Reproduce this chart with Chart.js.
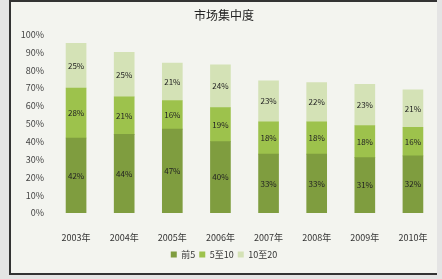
<!DOCTYPE html>
<html>
<head>
<meta charset="utf-8">
<script src="https://cdn.jsdelivr.net/npm/chart.js@4.4.0/dist/chart.umd.min.js"></script>
<style>
  html, body { margin: 0; padding: 0; background: #e4e4e4; }
  #frame {
    position: absolute; left: 9px; top: 0; width: 426px; height: 271px;
    border-left: 2px solid #333; border-top: 2px solid #333; border-bottom: 2px solid #333;
    background: #f3f4ef;
  }
  canvas { display: block; }
</style>
</head>
<body>
<div id="frame"><canvas id="chart" width="426" height="271"></canvas></div>
<script>
const years = ['2003年', '2004年', '2005年', '2006年', '2007年', '2008年', '2009年', '2010年'];
const top5 = [42, 44, 47, 40, 33, 33, 31, 32];
const top5to10 = [28, 21, 16, 19, 18, 18, 18, 16];
const top10to20 = [25, 25, 21, 24, 23, 22, 23, 21];
const seriesNames = ['前5', '5至10', '10至20'];
const yTicks = [0, 10, 20, 30, 40, 50, 60, 70, 80, 90, 100];

const barLabels = {
  id: 'barLabels',
  afterDatasetsDraw(chart) {
    const ctx = chart.ctx;
    ctx.save();
    ctx.font = '8px "Noto Sans CJK SC", sans-serif';
    ctx.fillStyle = '#222';
    ctx.textAlign = 'center';
    ctx.textBaseline = 'middle';
    chart.data.datasets.forEach((ds, di) => {
      chart.getDatasetMeta(di).data.forEach((bar, i) => {
        const mid = (bar.y + bar.base) / 2;
        ctx.fillText(ds.data[i] + '%', bar.x, mid);
      });
    });
    ctx.restore();
  }
};

new Chart(document.getElementById('chart'), {
  type: 'bar',
  data: {
    labels: years,
    datasets: [
      { label: seriesNames[0], data: top5, backgroundColor: '#7f9d3f' },
      { label: seriesNames[1], data: top5to10, backgroundColor: '#9dc24c' },
      { label: seriesNames[2], data: top10to20, backgroundColor: '#d4e2b6' }
    ]
  },
  options: {
    responsive: false,
    animation: false,
    layout: { padding: { left: 0, right: 0, top: 2, bottom: 4 } },
    datasets: { bar: { barThickness: 20 } },
    plugins: {
      title: {
        display: true, text: '市场集中度', color: '#222',
        font: { family: '"Noto Sans CJK SC", sans-serif', size: 12, weight: 'normal' },
        padding: { top: 4, bottom: 12 }
      },
      legend: {
        position: 'bottom',
        labels: {
          boxWidth: 6, boxHeight: 6, padding: 4, color: '#333',
          font: { family: '"Noto Sans CJK SC", sans-serif', size: 9 }
        }
      },
      tooltip: { enabled: false }
    },
    scales: {
      x: {
        stacked: true,
        grid: { display: false, drawTicks: false },
        border: { display: false },
        afterFit(scale) {
          scale.height = 33;
          scale.paddingLeft = 0;
          scale.paddingRight = 0;
        },
        ticks: {
          maxRotation: 0, color: '#333', padding: 19,
          font: { family: '"Noto Sans CJK SC", sans-serif', size: 9 }
        }
      },
      y: {
        stacked: true, min: 0, max: 100,
        afterBuildTicks(axis) { axis.ticks = yTicks.map(v => ({ value: v })); },
        afterFit(scale) { scale.width = 41; },
        grid: { display: false, drawTicks: false },
        border: { display: false },
        ticks: {
          color: '#444', padding: 8,
          font: { family: '"Noto Sans CJK SC", sans-serif', size: 9 },
          callback: v => v + '%'
        }
      }
    }
  },
  plugins: [barLabels]
});
</script>
</body>
</html>
